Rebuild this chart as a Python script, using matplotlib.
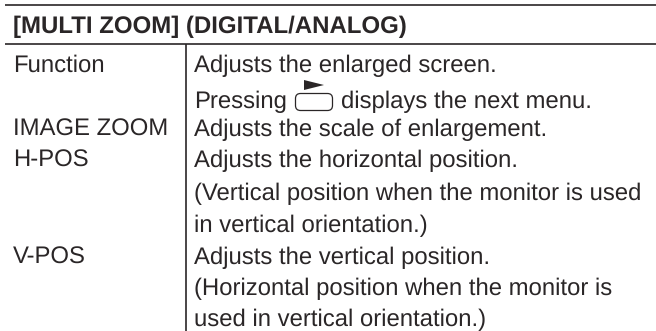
import matplotlib
matplotlib.use("Agg")
import matplotlib.pyplot as plt
from matplotlib.patches import FancyBboxPatch, Polygon

title = "[MULTI ZOOM] (DIGITAL/ANALOG)"
left_labels = ["Function", "IMAGE ZOOM", "H-POS", "V-POS"]
right_lines = [
    "Adjusts the enlarged screen.",
    "Pressing",
    "Adjusts the scale of enlargement.",
    "Adjusts the horizontal position.",
    "(Vertical position when the monitor is used",
    "in vertical orientation.)",
    "Adjusts the vertical position.",
    "(Horizontal position when the monitor is",
    "used in vertical orientation.)",
]
button_text = "displays the next menu."
left_y = [72, 136, 167, 264]
right_y = [72, 108, 136, 167, 200, 232, 264, 295, 326.5]

plt.rcParams['font.family'] = ['Liberation Sans', 'DejaVu Sans']
plt.rcParams['text.hinting'] = 'no_hinting'
fig = plt.figure(figsize=(6.56, 3.31), dpi=100)
ax = fig.add_axes([0, 0, 1, 1])
ax.set_xlim(0, 656)
ax.set_ylim(331, 0)
ax.axis('off')
col = '#2a2627'
ax.plot([5, 656], [4.5, 4.5], color=col, lw=1.2, solid_capstyle='butt')
ax.plot([5, 656], [43.5, 43.5], color=col, lw=1.2, solid_capstyle='butt')
ax.plot([186.2, 186.2], [43.5, 331], color=col, lw=1.2, solid_capstyle='butt')
ax.text(13, 33, title, fontsize=17.3, fontweight='bold', color=col, va='baseline')
for s, y in zip(left_labels, left_y):
    ax.text(13, y, s, fontsize=17.2, color=col, va='baseline')
for s, y in zip(right_lines, right_y):
    ax.text(194, y, s, fontsize=17.2, color=col, va='baseline')
ax.text(341, 108, button_text, fontsize=17.2, color=col, va='baseline')
ax.add_patch(FancyBboxPatch((295.5, 93.5), 37, 17, boxstyle="round,pad=0,rounding_size=5", fc='white', ec=col, lw=0.9))
ax.add_patch(Polygon([[304, 80], [304, 90], [324, 85]], closed=True, fc=col, ec='none'))
fig.savefig("out.png", dpi=100)
